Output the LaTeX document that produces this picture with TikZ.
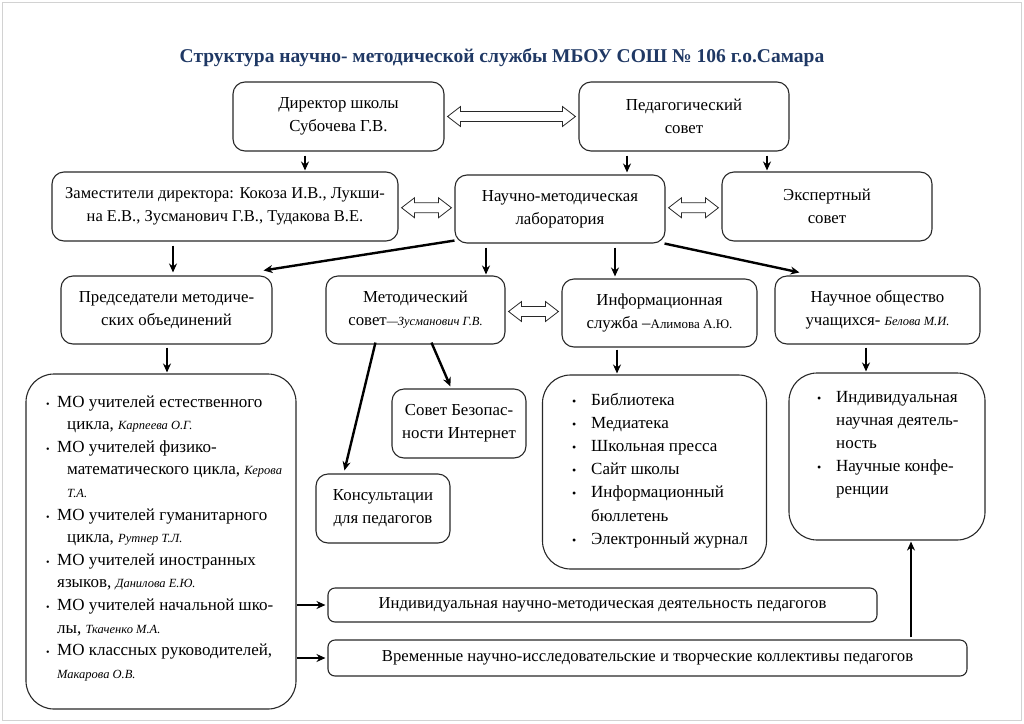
\documentclass[tikz,border=0pt]{standalone}
\usepackage{fontspec}
\setmainfont{Liberation Serif}
\usetikzlibrary{calc,arrows.meta}
\definecolor{titleblue}{RGB}{31,56,100}
\definecolor{boxline}{RGB}{40,40,40}
\newcommand\nmfont{\fontsize{12.5}{14}\selectfont\itshape}
\newcommand\mobul{\makebox[11pt][l]{\fontsize{10}{10}\selectfont\textbullet}}
\newcommand\moind{\hspace*{21pt}}
\newcommand\moindb{\hspace*{11pt}}
\newcommand\lbul{\makebox[20pt][l]{\hspace*{1pt}\fontsize{12}{12}\selectfont\textbullet}}
\newcommand\lind{\hspace*{20pt}}
\newcommand\harrow[2]{%
 \draw[hollowarr] let \p1=(#1.east), \p2=(#2.west), \p3=($(#1.east)!0.5!(#2.west)$) in
 (\x1+3pt,\y3) -- (\x1+16pt,\y3+10pt) -- (\x1+16pt,\y3+5pt) -- (\x2-16pt,\y3+5pt) -- (\x2-16pt,\y3+10pt) -- (\x2-3pt,\y3) -- (\x2-16pt,\y3-10pt) -- (\x2-16pt,\y3-5pt) -- (\x1+16pt,\y3-5pt) -- (\x1+16pt,\y3-10pt) -- cycle;}
\begin{document}
\begin{tikzpicture}[x=1pt,y=-1pt,
 box/.style={draw=boxline, line width=1.1pt, rounded corners=12pt, align=center, inner sep=0pt, font=\fontsize{16.8}{23}\selectfont},
 bigbox/.style={draw=boxline, line width=1.1pt, rounded corners=28pt, inner sep=0pt},
 lst/.style={inner sep=0pt, anchor=base west, font=\fontsize{17}{22.6}\selectfont},
 arr/.style={line width=2.4pt, -{Stealth[length=9pt,width=8pt]}},
 hollowarr/.style={draw=boxline, line width=0.8pt, fill=white, line join=miter},
]
\useasboundingbox (0,0) rectangle (1024,723);
\draw[gray!35, line width=0.8pt] (2,2) rectangle (1021,720);

\node[font=\fontsize{19.5}{22}\selectfont\bfseries, text=titleblue] (title) at (502,58) {Структура научно- методической службы МБОУ СОШ № 106 г.о.Самара};

\node[box, minimum width=211pt, minimum height=69pt] (dir) at (338.5,116.5) {Директор школы\\Субочева Г.В.};
\node[box, minimum width=210pt, minimum height=69pt] (ped) at (684,116.5) {Педагогический\\совет};
\node[box, minimum width=346pt, minimum height=69pt, font=\fontsize{16.5}{23}\selectfont] (zam) at (225,206.5) {Заместители директора: Кокоза И.В., Лукши-\\на Е.В., Зусманович Г.В., Тудакова В.Е.};
\node[box, minimum width=210pt, minimum height=68pt] (nml) at (560,209) {Научно-методическая\\лаборатория};
\node[box, minimum width=210pt, minimum height=69pt] (exp) at (827,206.5) {Экспертный\\совет};
\node[box, minimum width=211pt, minimum height=68pt] (pred) at (166.5,310) {Председатели методиче-\\ских объединений};
\node[box, minimum width=179pt, minimum height=68pt] (met) at (415.5,310) {Методический\\совет{\nmfont—Зусманович Г.В.}};
\node[box, minimum width=195pt, minimum height=68pt] (inf) at (659.5,313) {Информационная\\служба –{\fontsize{13}{14}\selectfont Алимова А.Ю.}};
\node[box, minimum width=205pt, minimum height=68pt] (nou) at (877.5,310) {Научное общество\\учащихся- {\nmfont Белова М.И.}};

\node[bigbox, minimum width=270pt, minimum height=335pt] (mo) at (161,541.5) {};
\node[box, minimum width=134pt, minimum height=69pt] (bez) at (459,423.5) {Совет Безопас-\\ности Интернет};
\node[box, minimum width=134pt, minimum height=69pt] (kons) at (383,508.5) {Консультации\\для педагогов};
\node[bigbox, minimum width=224pt, minimum height=194pt] (il) at (654.5,472) {};
\node[bigbox, minimum width=196pt, minimum height=167pt] (nl) at (887,456.5) {};
\node[box, rounded corners=7pt, minimum width=549pt, minimum height=34pt, font=\fontsize{16.7}{18}\selectfont] (ind) at (602.5,605) {Индивидуальная научно-методическая деятельность педагогов};
\node[box, rounded corners=7pt, minimum width=639pt, minimum height=36pt, font=\fontsize{16.7}{18}\selectfont] (vrem) at (647.5,658) {Временные научно-исследовательские и творческие коллективы педагогов};

\node[lst] (motext) at (46,407) {\begin{tabular}[t]{@{}l@{}}
\mobul МО учителей естественного\\
\moind цикла, {\nmfont Карпеева О.Г.}\\
\mobul МО учителей физико-\\
\moind математического цикла, {\nmfont Керова}\\
\moind {\nmfont Т.А.}\\
\mobul МО учителей гуманитарного\\
\moind цикла, {\nmfont Рутнер Т.Л.}\\
\mobul МО учителей иностранных\\
\moindb языков, {\nmfont Данилова Е.Ю.}\\
\mobul МО учителей начальной шко-\\
\moindb лы, {\nmfont Ткаченко М.А.}\\
\mobul МО классных руководителей,\\
\moindb {\nmfont Макарова О.В.}
\end{tabular}};

\node[lst, font=\fontsize{17}{23.2}\selectfont] (iltext) at (571,405) {\begin{tabular}[t]{@{}l@{}}
\lbul Библиотека\\
\lbul Медиатека\\
\lbul Школьная пресса\\
\lbul Сайт школы\\
\lbul Информационный\\
\lind бюллетень\\
\lbul Электронный журнал
\end{tabular}};

\node[lst, font=\fontsize{17}{23.2}\selectfont] (nltext) at (816,402) {\begin{tabular}[t]{@{}l@{}}
\lbul Индивидуальная\\
\lind научная деятель-\\
\lind ность\\
\lbul Научные конфе-\\
\lind ренции
\end{tabular}};

\harrow{dir}{ped}
\harrow{zam}{nml}
\harrow{nml}{exp}
\harrow{met}{inf}

\coordinate (v1) at (305,0);
\coordinate (v2) at (627,0);
\coordinate (v3) at (767,0);
\coordinate (v4) at (173,0);
\coordinate (v6) at (486,0);
\coordinate (v7) at (615,0);
\coordinate (v9) at (167,0);
\coordinate (v12) at (617,0);
\coordinate (v13) at (866,0);
\coordinate (v16) at (911,0);

\draw[arr, shorten <=4pt, shorten >=1pt] (dir.south -| v1) -- (zam.north -| v1);
\draw[arr, shorten <=4pt, shorten >=2pt] (ped.south -| v2) -- (nml.north -| v2);
\draw[arr, shorten <=4pt, shorten >=1pt] (ped.south -| v3) -- (exp.north -| v3);
\draw[arr, shorten <=4pt, shorten >=3pt] (zam.south -| v4) -- (pred.north -| v4);
\draw[arr] ([yshift=3pt]nml.south west) -- ([xshift=-9pt,yshift=5pt]pred.north east);
\draw[arr, shorten <=4pt, shorten >=1pt] (nml.south -| v6) -- (met.north -| v6);
\draw[arr, shorten <=4pt, shorten >=2pt] (nml.south -| v7) -- (inf.north -| v7);
\draw[arr] ([xshift=-1pt]nml.south east) -- ([xshift=25pt,yshift=3pt]nou.north west);
\draw[arr, shorten <=3pt, shorten >=1pt] (pred.south -| v9) -- (mo.north -| v9);
\draw[arr] ([xshift=50pt,yshift=2pt]met.south west) -- ([xshift=29pt,yshift=3pt]kons.north west);
\draw[arr] ([xshift=106pt,yshift=2pt]met.south west) -- ([xshift=59pt,yshift=2pt]bez.north west);
\draw[arr, shorten <=2pt, shorten >=1pt] (inf.south -| v12) -- (il.north -| v12);
\draw[arr, shorten <=3pt, shorten >=1pt] (nou.south -| v13) -- (nl.north -| v13);
\draw[arr, shorten >=2pt] (mo.east |- ind.west) -- (ind.west);
\draw[arr, shorten >=2pt] (mo.east |- vrem.west) -- (vrem.west);
\draw[arr, shorten <=2pt, shorten >=1pt] (vrem.north -| v16) -- (nl.south -| v16);
\end{tikzpicture}
\end{document}
